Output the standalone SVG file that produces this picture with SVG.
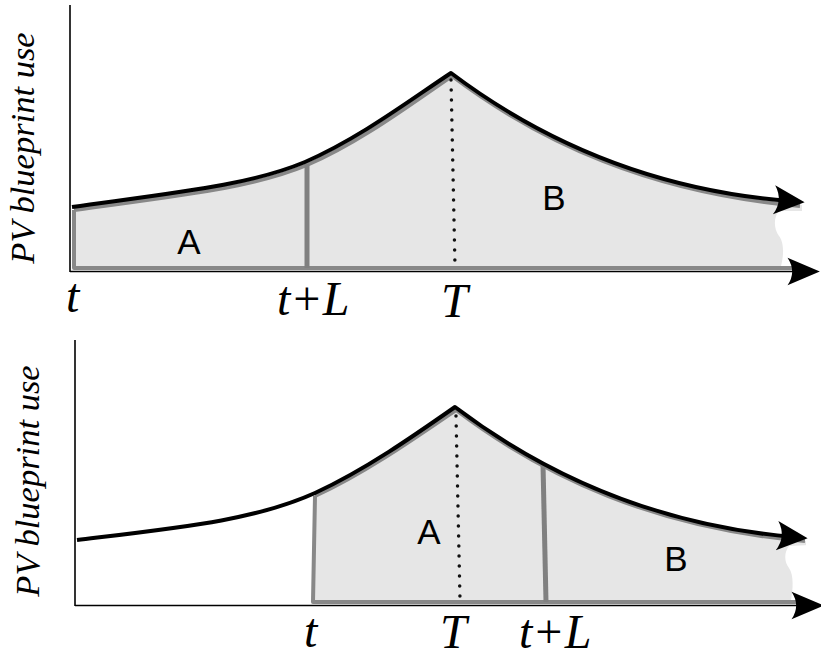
<svg xmlns="http://www.w3.org/2000/svg" width="821" height="660" viewBox="0 0 821 660">
  <style>
    .fill { fill: #e6e6e6; stroke: none; }
    .tear { fill: #ffffff; stroke: none; }
    .gray { fill: none; stroke: #888888; stroke-width: 4; stroke-linejoin: round; }
    .split { fill: none; stroke: #808080; stroke-width: 5; }
    .curve { fill: none; stroke: #000000; stroke-width: 4; stroke-linejoin: round; }
    .axis { fill: none; stroke: #000000; stroke-width: 1.6; }
    .dots { fill: none; stroke: #111111; stroke-width: 3.5; stroke-linecap: round; stroke-dasharray: 0 10; }
    .region { font-family: "Liberation Sans", Arial, sans-serif; font-size: 35px; fill: #000; text-anchor: middle; }
    .tick { font-family: "Liberation Serif", "Times New Roman", serif; font-style: italic; font-size: 48px; fill: #000; }
    .ylab { font-family: "Liberation Serif", "Times New Roman", serif; font-style: italic; font-size: 34.5px; fill: #000; text-anchor: middle; }
  </style>
  <defs>
    <marker id="curveArrow" markerUnits="userSpaceOnUse" markerWidth="40" markerHeight="40" viewBox="-2 -14 30 28" refX="12" refY="0" orient="auto" overflow="visible">
      <path d="M0,-11 L23,0 L0,11 Q7,0 0,-11 Z" fill="#000"/>
    </marker>
    <marker id="axisArrow" markerUnits="userSpaceOnUse" markerWidth="40" markerHeight="40" viewBox="-2 -12 26 24" refX="12" refY="0" orient="auto" overflow="visible">
      <path d="M0,-9 L21,0 L0,9 Q6,0 0,-9 Z" fill="#000"/>
    </marker>
  </defs>

  <!-- Top panel -->
  <g id="panel-top">
    <path class="fill" d="M74,210 C182,195 252,188 307,165 C362,141 412,103 452,76 C541,143 651,193 802,205 L802,268 L74,268 Z"/>
    <path class="tear" d="M779,211 C774,216 773,228 779,236 C784,242 784,255 781,266 L808,266 L808,211 Z"/>
    <path class="gray" d="M74,210 C182,195 252,188 307,165 C362,141 412,103 452,76 C541,143 651,193 800,206"/>
    <path class="gray" d="M74,210 L74,268 L800,268"/>
    <line class="split" x1="307" y1="164" x2="307" y2="268"/>
    <line class="dots" x1="451" y1="80" x2="455" y2="267"/>
    <line class="axis" x1="70" y1="5" x2="70" y2="272"/>
    <line class="axis" x1="70" y1="271.5" x2="806" y2="271.5" marker-end="url(#axisArrow)"/>
    <path class="curve" d="M72,207 C180,192 250,185 305,162 C360,138 410,100 451,73 C540,140 650,190 790,201" marker-end="url(#curveArrow)"/>
    <text class="region" x="189" y="254">A</text>
    <text class="region" x="554" y="210">B</text>
    <text class="tick" x="66" y="312">t</text>
    <text class="tick" x="277" y="315">t+L</text>
    <text class="tick" x="441" y="317">T</text>
    <text class="ylab" transform="translate(34,148) rotate(-90)">PV blueprint use</text>
  </g>

  <!-- Bottom panel -->
  <g id="panel-bottom">
    <path class="fill" d="M315,496 C365,473 415,438 456,410 C546,478 656,528 806,541 L806,602 L313,602 Z"/>
    <path class="tear" d="M789,546 C784,552 784,562 789,568 C794,575 793,590 791,600 L810,600 L810,545 Z"/>
    <path class="gray" d="M315,496 C365,473 415,438 456,410 C546,478 656,528 805,541"/>
    <path class="gray" d="M315,496 L313,602 L803,602"/>
    <line class="split" x1="543" y1="464" x2="546" y2="602"/>
    <line class="dots" x1="456" y1="416" x2="460" y2="600"/>
    <line class="axis" x1="75" y1="340" x2="75" y2="606"/>
    <line class="axis" x1="75" y1="605.5" x2="810" y2="605.5" marker-end="url(#axisArrow)"/>
    <path class="curve" d="M77,540 C185,527 255,520 315,493 C365,470 415,435 455,407 C545,475 655,525 793,537" marker-end="url(#curveArrow)"/>
    <text class="region" x="429" y="544">A</text>
    <text class="region" x="676" y="571">B</text>
    <text class="tick" x="304" y="647">t</text>
    <text class="tick" x="519" y="648">t+L</text>
    <text class="tick" x="440" y="648">T</text>
    <text class="ylab" transform="translate(39,481) rotate(-90)">PV blueprint use</text>
  </g>
</svg>
